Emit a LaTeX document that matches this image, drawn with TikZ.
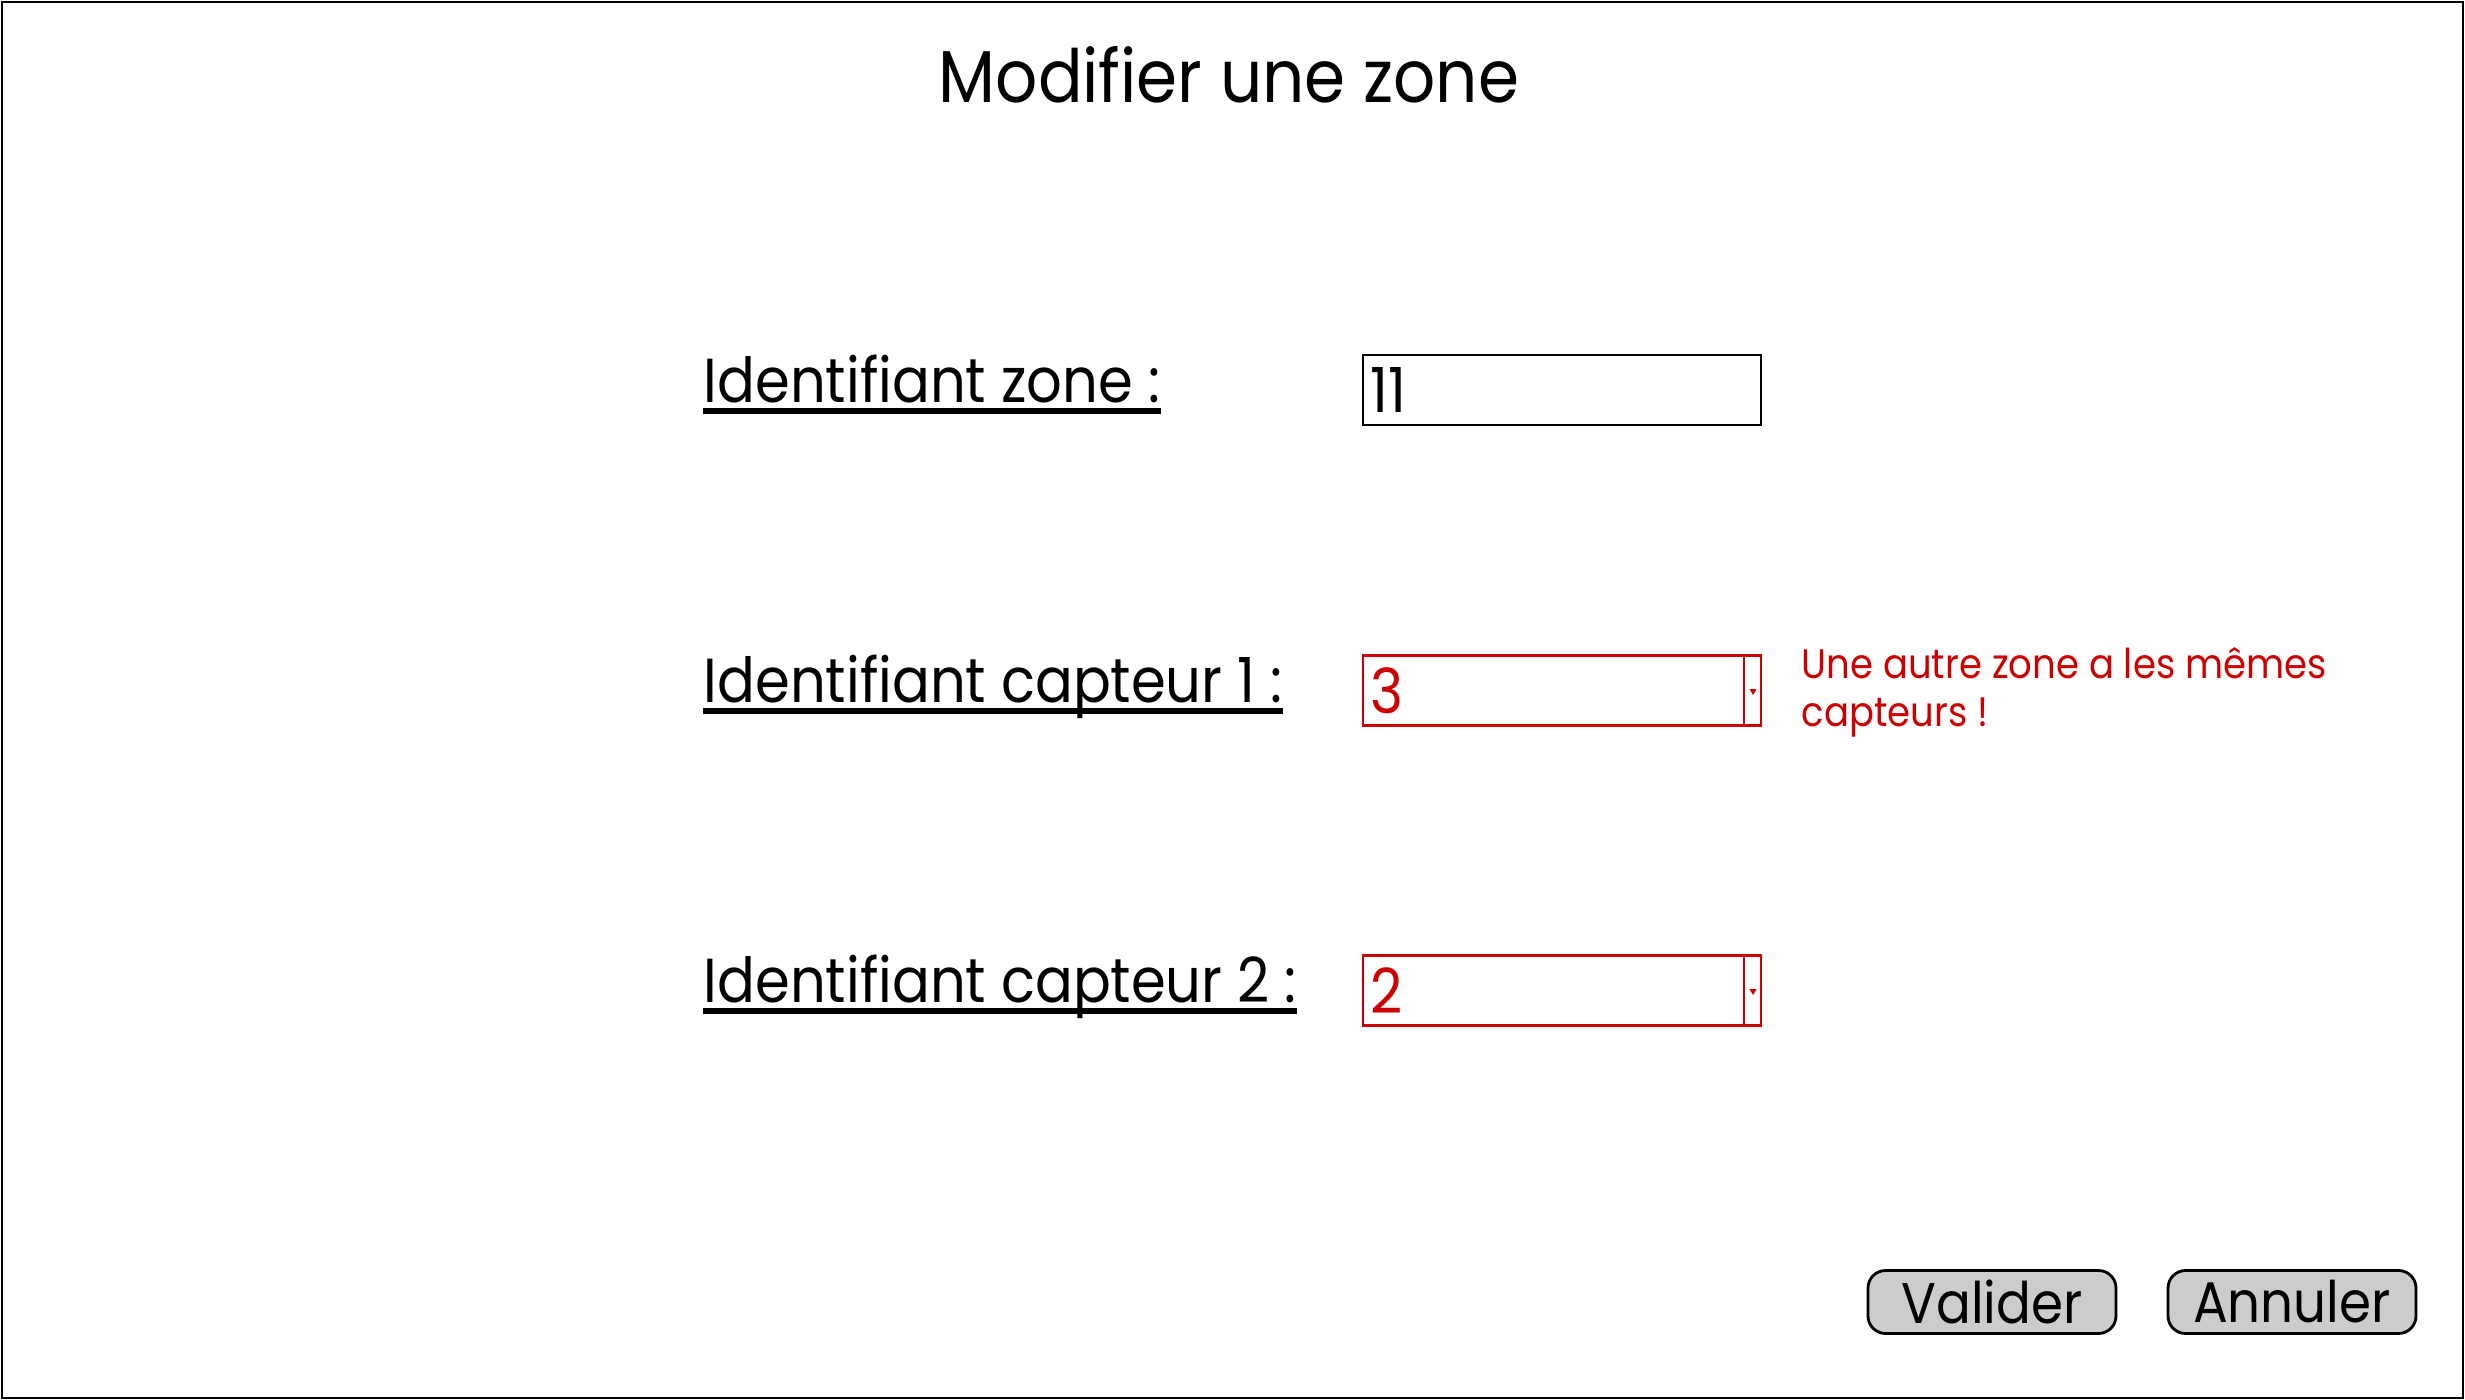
\documentclass[tikz,border=0pt]{standalone}
\usepackage{fontspec}
\setmainfont[FakeStretch=0.9]{Poppins}
\usetikzlibrary{positioning}
\definecolor{errred}{HTML}{CC0000}
\definecolor{btngray}{HTML}{CCCCCC}
\tikzset{
  lbl/.style={anchor=base west, inner sep=0pt, font=\fontsize{17.7}{21}\selectfont},
  ul/.style={line width=1.6pt},
  field/.style={draw, minimum width=3.98cm, minimum height=0.70cm, inner sep=0pt},
  val/.style={inner sep=0pt, font=\fontsize{17.7}{21}\selectfont},
  btn/.style={draw, thick, fill=btngray, rounded corners=5pt, minimum width=2.48cm, minimum height=0.63cm, inner sep=0pt, font=\fontsize{16.3}{20}\selectfont},
}
\begin{document}
\begin{tikzpicture}[x=1cm,y=-1cm]
\useasboundingbox (0,0) rectangle (24.65,14);
\draw[thick] (0.02,0.02) rectangle (24.63,13.98);
\node (title) at (12.29,1.02)[anchor=base, inner sep=0pt, font=\fontsize{20.9}{25}\selectfont]{Modifier une zone};
% labels
\node (lzone) at (7.03,4.02)[lbl]{Identifiant zone :};
\node (lcap1) at (7.03,7.02)[lbl]{Identifiant capteur 1 :};
\node (lcap2) at (7.03,10.02)[lbl]{Identifiant capteur 2 :};
\draw[ul] ([yshift=-0.09cm]lzone.base west)--([yshift=-0.09cm]lzone.base east);
\draw[ul] ([yshift=-0.09cm]lcap1.base west)--([yshift=-0.09cm]lcap1.base east);
\draw[ul] ([yshift=-0.09cm]lcap2.base west)--([yshift=-0.09cm]lcap2.base east);
% fields
\node (fzone) at (15.62,3.90)[field, thick]{};
\node (vzone) [val, right=0.08cm of fzone.west]{11};
\node (fcap1) at (15.62,6.905)[field, semithick, draw=errred]{};
\node (vcap1) [val, text=errred, right=0.08cm of fcap1.west]{3};
\draw[errred] ([xshift=-0.18cm]fcap1.north east)--([xshift=-0.18cm]fcap1.south east);
\fill[errred] ([xshift=-0.125cm,yshift=0.015cm]fcap1.east)--++(0.07,0)--++(-0.035,0.06)--cycle;
\node (fcap2) at (15.62,9.905)[field, semithick, draw=errred]{};
\node (vcap2) [val, text=errred, right=0.08cm of fcap2.west]{2};
\draw[errred] ([xshift=-0.18cm]fcap2.north east)--([xshift=-0.18cm]fcap2.south east);
\fill[errred] ([xshift=-0.125cm,yshift=0.015cm]fcap2.east)--++(0.07,0)--++(-0.035,0.06)--cycle;
\node (err) at (18.01,7.26)[anchor=base west, inner sep=0pt, align=left, text=errred, font=\fontsize{11.7}{13.4}\selectfont]{Une autre zone a les mêmes\\capteurs !};
% buttons
\node (valider) at (19.92,13.02)[btn]{Valider};
\node (annuler) at (22.92,13.02)[btn]{Annuler};
\end{tikzpicture}
\end{document}
